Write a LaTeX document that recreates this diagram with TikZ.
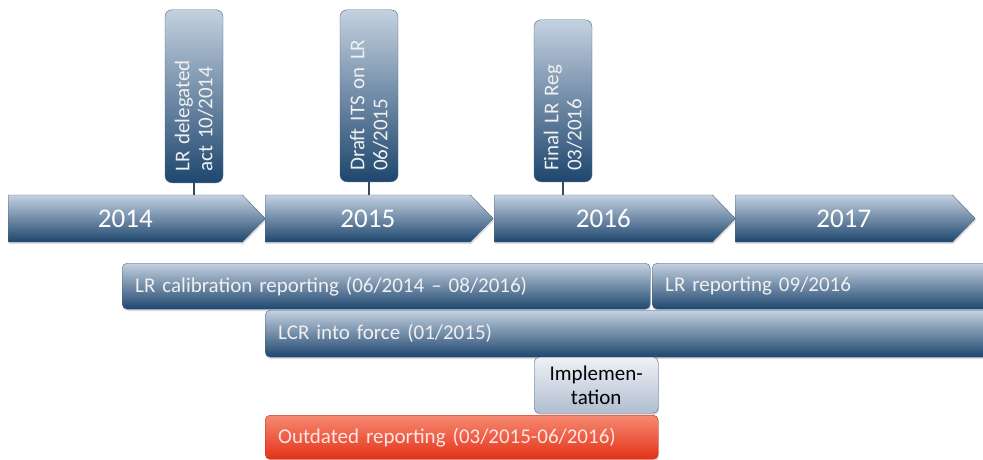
\documentclass[tikz,border=0pt]{standalone}
\usepackage{fontspec}
\setmainfont{Carlito}
\usetikzlibrary{positioning,shapes.symbols,shadows}

\definecolor{steeltop}{RGB}{196,209,224}
\definecolor{steelbot}{RGB}{30,70,110}
\definecolor{steelline}{RGB}{80,104,130}
\definecolor{paletop}{RGB}{238,241,246}
\definecolor{palebot}{RGB}{176,190,208}
\definecolor{redtop}{RGB}{246,138,114}
\definecolor{redbot}{RGB}{228,50,22}

\begin{document}
\begin{tikzpicture}[x=1pt, y=-1pt,
  year/.style={shape=signal, signal to=east, signal pointer angle=92,
               draw=steelline, top color=steeltop, bottom color=steelbot,
               text=white, font=\fontsize{27}{32}\selectfont,
               minimum height=47pt, inner sep=0pt, anchor=west,
               drop shadow={shadow xshift=1pt, shadow yshift=-2pt, opacity=0.25}},
  mstone/.style={draw=steelline, rounded corners=7pt, rotate=90, anchor=west,
               top color=steeltop, bottom color=steelbot, text=white!94!black,
               font=\fontsize{21}{23}\selectfont, align=left,
               inner xsep=11pt, inner ysep=0pt, minimum height=58pt},
  bar/.style={draw=steelline, rounded corners=5pt, anchor=north west,
              top color=steeltop, bottom color=steelbot, text=white!94!black,
              font=\fontsize{21}{24}\selectfont, align=left, inner xsep=13pt,
              drop shadow={shadow xshift=1pt, shadow yshift=-2pt, opacity=0.25}},
  stem/.style={draw=steelline!70!black, line width=1.6pt}]
  \useasboundingbox (0,0) rectangle (983,460);
  \clip (0,0) rectangle (983,460);

  % milestones
  \node[mstone, text width=151pt] (ms1) at (194,183) {LR delegated\\act 10/2014};
  \node[mstone, text width=150pt] (ms2) at (369,182) {Draft ITS on LR\\06/2015};
  \node[mstone, text width=140pt] (ms3) at (563,182) {Final LR Reg\\03/2016};

  % years
  \node[year, minimum width=257pt] (y2014) at (8,218.5)   {2014};
  \node[year, minimum width=228pt] (y2015) at (265,218.5) {2015};
  \node[year, minimum width=241pt] (y2016) at (494,218.5) {2016};
  \node[year, minimum width=240pt] (y2017) at (735,218.5) {2017};

  \draw[stem] (ms1.west) -- (ms1.west |- y2014.north);
  \draw[stem] (ms2.west) -- (ms2.west |- y2015.north);
  \draw[stem] (ms3.west) -- (ms3.west |- y2016.north);

  % reporting periods
  \node[bar, text width=502pt, minimum height=46pt] (calib) at (122,263)
        {LR calibration reporting (06/2014 -- 08/2016)};
  \node[bar, text width=330pt, minimum height=46pt] (lrrep) at (652,263)
        {LR reporting 09/2016};
  \node[bar, text width=704pt, minimum height=47pt] (lcr) at (265,310)
        {LCR into force (01/2015)};
  \node[bar, top color=paletop, bottom color=palebot, text=black, align=center,
        inner xsep=0pt, text width=124pt, minimum height=56pt] (impl) at (534,357)
        {Implemen-\\tation};
  \node[bar, draw=redbot!80!black, top color=redtop, bottom color=redbot,
        text=white!90!red, text width=367pt, minimum height=44pt] (outd) at (265,415)
        {Outdated reporting (03/2015-06/2016)};
\end{tikzpicture}
\end{document}
